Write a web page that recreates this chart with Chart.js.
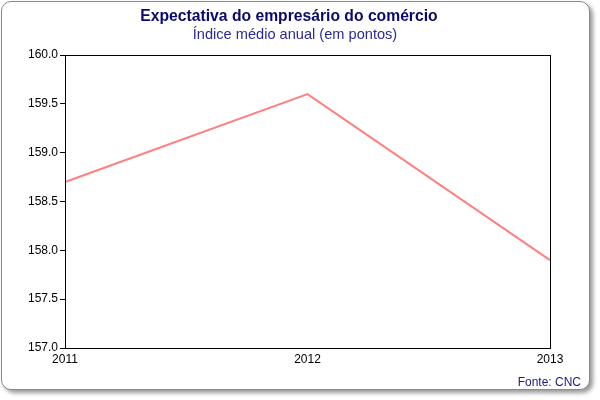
<!DOCTYPE html>
<html>
<head>
<meta charset="utf-8">
<script src="https://cdn.jsdelivr.net/npm/chart.js@4"></script>
<style>
  html, body { margin: 0; padding: 0; background: #fff; }
  #frame { position: absolute; left: 1px; top: 1px; width: 587px; height: 387px;
    border: 1px solid #8a8a8a; border-radius: 10px; box-shadow: 3px 3px 4px #999; background: #fff; }
  #wrap { position: absolute; left: 0; top: 0; width: 600px; height: 400px; }
  .t { position: absolute; left: 0; text-align: center; white-space: nowrap; font-family: "Liberation Sans", Arial, sans-serif; }
  #title { top: 7px; width: 578px; font-size: 15.7px; line-height: 18px; font-weight: bold; color: #0a0a6e; }
  #subtitle { top: 25px; width: 590px; font-size: 14.6px; line-height: 18px; color: #2a2a9a; }
  #fonte { position: absolute; right: 19px; top: 375px; font: 12px "Liberation Sans", Arial, sans-serif; color: #1a1a80; }
</style>
</head>
<body>
<div id="frame"></div>
<div id="wrap"><canvas id="c" width="600" height="400"></canvas></div>
<div id="title" class="t"></div>
<div id="subtitle" class="t"></div>
<div id="fonte">Fonte: CNC</div>
<script>
const categories = ["2011", "2012", "2013"];
const values = [158.7, 159.6, 157.9];
const yMin = 157.0, yMax = 160.0, yStep = 0.5;
const titleText = "Expectativa do empresário do comércio";
const subtitleText = "Índice médio anual (em pontos)";
document.getElementById('title').textContent = titleText;
document.getElementById('subtitle').textContent = subtitleText;

const boxPlugin = {
  id: 'box',
  afterDraw(chart) {
    const a = chart.chartArea, ctx = chart.ctx;
    ctx.save();
    ctx.strokeStyle = '#000';
    ctx.lineWidth = 1;
    ctx.strokeRect(Math.round(a.left) + 0.5, Math.round(a.top) + 0.5, Math.round(a.right - a.left), Math.round(a.bottom - a.top));
    ctx.restore();
  }
};

new Chart(document.getElementById('c'), {
  type: 'line',
  data: {
    labels: categories,
    datasets: [{
      data: values,
      borderColor: '#ff8080',
      borderWidth: 2,
      pointRadius: 0,
      tension: 0,
      fill: false
    }]
  },
  options: {
    responsive: false,
    animation: false,
    layout: { padding: { left: 0, right: 50, top: 55, bottom: 32 } },
    plugins: {
      legend: { display: false },
      tooltip: { enabled: false },
      title: { display: false },
      subtitle: { display: false }
    },
    scales: {
      x: {
        offset: false,
        grid: { drawOnChartArea: false, drawTicks: false },
        border: { color: '#000' },
        ticks: { color: '#000', font: { family: 'Liberation Sans', size: 12 }, maxRotation: 0, padding: 4 },
        afterFit(s) { s.height = 20; }
      },
      y: {
        min: yMin, max: yMax,
        grid: { drawOnChartArea: false, drawTicks: true, tickLength: 5, color: '#000' },
        border: { color: '#000' },
        ticks: { stepSize: yStep, color: '#000', font: { family: 'Liberation Sans', size: 12 }, padding: 2,
          callback: v => Number(v).toFixed(1) },
        afterFit(s) { s.width = 65; }
      }
    }
  },
  plugins: [boxPlugin]
});
</script>
</body>
</html>
